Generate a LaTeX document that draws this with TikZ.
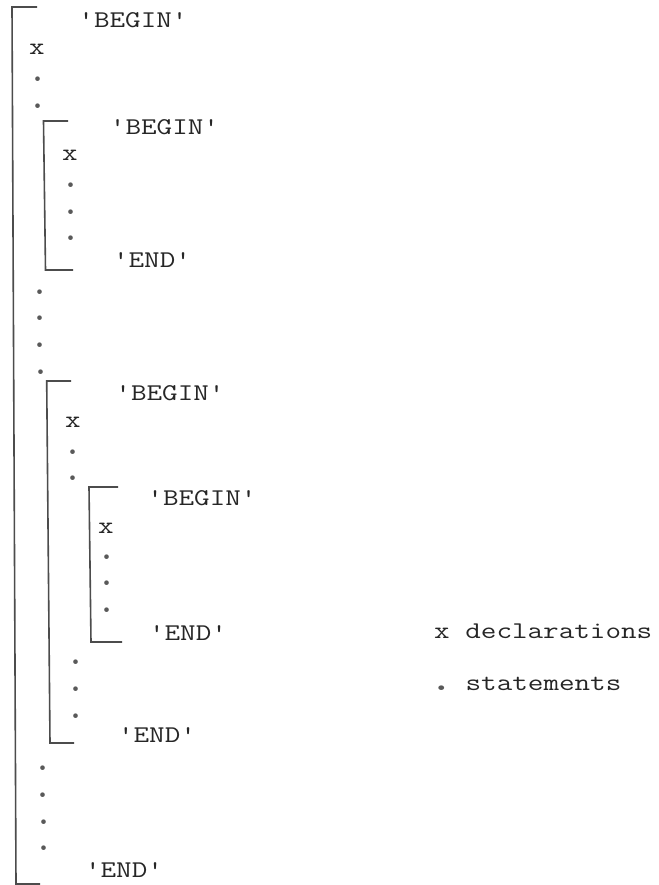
\documentclass[tikz,border=0pt]{standalone}
\usepackage{graphicx}
\newcommand\tw[1]{\scalebox{1.26}[1]{#1}}
\newcommand\qq{\textquotesingle}
\newcommand\bigdot{\scalebox{1.7}{.}}
\tikzset{
  code/.style={font=\ttfamily\fontsize{24}{24}\selectfont, text=black!85, inner sep=0pt, anchor=base},
  stmt/.style={font=\ttfamily\fontsize{24}{24}\selectfont, text=black!65, inner sep=0pt, anchor=base},
  legend/.style={code, anchor=base west},
  bracket/.style={draw=black!70, line width=1.6pt, line join=miter},
}
\begin{document}
\begin{tikzpicture}[x=1pt,y=-1pt]
\useasboundingbox[fill=white] (0,0) rectangle (658,885);
% outer block
\node[code] (b1) at (133,28) {\tw{\qq BEGIN\qq}};
\node[code] (x1) at (37,55) {\tw{x}};
\node[stmt] (s1) at (38,81.5) {\bigdot};
\node[stmt] (s2) at (38,108.5) {\bigdot};
% block 2
\node[code] (b2) at (164.5,135) {\tw{\qq BEGIN\qq}};
\node[code] (x2) at (70,161) {\tw{x}};
\node[stmt] (s3) at (71,187.5) {\bigdot};
\node[stmt] (s4) at (71,214.5) {\bigdot};
\node[stmt] (s5) at (71,240.5) {\bigdot};
\node[code] (e2) at (152,267) {\tw{\qq END\qq}};
\draw[bracket] (68,121) -- (43.5,121) -- (45.5,270) -- (73,270);
\node[stmt] (s6) at (40,294.5) {\bigdot};
\node[stmt] (s7) at (40,320.5) {\bigdot};
\node[stmt] (s8) at (40,347.5) {\bigdot};
\node[stmt] (s9) at (41,374.5) {\bigdot};
% block 3
\node[code] (b3) at (170,400) {\tw{\qq BEGIN\qq}};
\node[code] (x3) at (73,427) {\tw{x}};
\node[stmt] (s10) at (73,454.5) {\bigdot};
\node[stmt] (s11) at (73,480.5) {\bigdot};
% block 4
\node[code] (b4) at (202,505) {\tw{\qq BEGIN\qq}};
\node[code] (x4) at (106,533) {\tw{x}};
\node[stmt] (s12) at (107,559.5) {\bigdot};
\node[stmt] (s13) at (107,585.5) {\bigdot};
\node[stmt] (s14) at (107,612.5) {\bigdot};
\node[code] (e4) at (188,640) {\tw{\qq END\qq}};
\draw[bracket] (118,487) -- (89,487) -- (91,642) -- (122,642);
\node[stmt] (s15) at (76,664.5) {\bigdot};
\node[stmt] (s16) at (76,691.5) {\bigdot};
\node[stmt] (s17) at (76,718.5) {\bigdot};
\node[code] (e3) at (157,742) {\tw{\qq END\qq}};
\draw[bracket] (71,381) -- (46.7,381) -- (50,743) -- (74,743);
\node[stmt] (s18) at (43,770.5) {\bigdot};
\node[stmt] (s19) at (43,797.5) {\bigdot};
\node[stmt] (s20) at (44,824.5) {\bigdot};
\node[stmt] (s21) at (44,850.5) {\bigdot};
\node[code] (e1) at (124,877) {\tw{\qq END\qq}};
\draw[bracket] (37,7) -- (12,7) -- (16,884) -- (40,884);
% legend
\node[legend] (l1) at (434,638) {\tw{x declarations}};
\node[legend] (l2) at (434,690) {\tw{\makebox[0.525em]{\textcolor{black!65}{\bigdot}}\ statements}};
\end{tikzpicture}
\end{document}
